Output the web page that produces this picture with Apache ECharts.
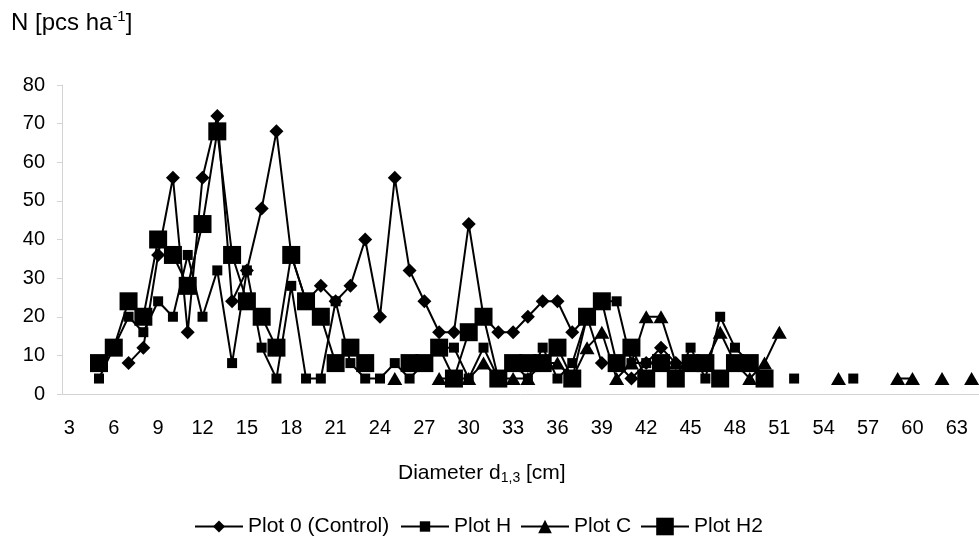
<!DOCTYPE html>
<html>
<head>
<meta charset="utf-8">
<script src="https://cdn.jsdelivr.net/npm/echarts/dist/echarts.min.js"></script>
<style>
html, body { margin: 0; padding: 0; background: #fff; }
#chart { width: 979px; height: 541px; }
</style>
</head>
<body>
<div id="chart"></div>
<script>
// diameter classes d1,3 [cm]
var diameters = ['3','4','5','6','7','8','9','10','11','12','13','14','15','16','17','18','19','20',
	'21','22','23','24','25','26','27','28','29','30','31','32','33','34','35','36','37','38','39','40',
	'41','42','43','44','45','46','47','48','49','50','51','52','53','54','55','56','57','58','59','60',
	'61','62','63','64'];

// N [pcs ha-1] per diameter class, null = no trees
var plot0 = [null, null, null, null, 8, 12, 36, 56, 16, 56,
	72, 24, 32, 48, 68, 36, 24, 28, 24, 28,
	40, 20, 56, 32, 24, 16, 16, 44, 20, 16,
	16, 20, 24, 24, 16, 20, 8, 8, 4, 8,
	12, 8, 8, null, null, null, null, null, null, null,
	null, null, null, null, null, null, null, null, null, null,
	null, null];
var plotH = [null, null, 4, 12, 20, 16, 24, 20, 36, 20,
	32, 8, 32, 12, 4, 28, 4, 4, 24, 8,
	4, 4, 8, 4, 8, 12, 12, 4, 12, 4,
	8, 4, 12, 4, 8, 20, 24, 24, 8, 8,
	8, 4, 12, 4, 20, 12, 8, 4, null, 4,
	null, null, null, 4, null, null, null, null, null, null,
	null, null];
var plotC = [null, null, null, null, null, null, null, null, null, null,
	null, null, null, null, null, null, null, null, null, null,
	null, null, 4, null, null, 4, 4, 4, 8, 4,
	4, 4, 8, 8, 4, 12, 16, 4, 8, 20,
	20, 8, 8, 8, 16, 8, 4, 8, 16, null,
	null, null, 4, null, null, null, 4, 4, null, 4,
	null, 4];
var plotH2 = [null, null, 8, 12, 24, 20, 40, 36, 28, 44,
	68, 36, 24, 20, 12, 36, 24, 20, 8, 12,
	8, null, null, 8, 8, 12, 4, 16, 20, 4,
	8, 8, 8, 12, 4, 20, 24, 8, 12, 4,
	8, 4, 8, 8, 4, 8, 8, 4, null, null,
	null, null, null, null, null, null, null, null, null, null,
	null, null];

var font = '"Liberation Sans", Arial, sans-serif';
var axisGrey = '#d4d4d4';

function lineSeries(name, data, symbol, size) {
	return {
		name: name,
		type: 'line',
		data: data,
		symbol: symbol,
		symbolSize: size,
		showSymbol: true,
		showAllSymbol: true,
		connectNulls: false,
		itemStyle: { color: '#000' },
		lineStyle: { color: '#000', width: 2 },
		emphasis: { disabled: true }
	};
}

function legendItem(name, left, h, top) {
	return {
		data: [name],
		left: left,
		top: top,
		itemWidth: 48,
		itemHeight: h,
		padding: 0,
		selectedMode: false,
		textStyle: { fontFamily: font, fontSize: 21, color: '#000' }
	};
}

var chart = echarts.init(document.getElementById('chart'));
var option = {
	animation: false,
	backgroundColor: '#fff',
	grid: { left: 62, right: 0, top: 85, bottom: 147, containLabel: false, outerBoundsMode: 'none' },
	xAxis: {
		type: 'category',
		data: diameters,
		boundaryGap: true,
		axisLine: { lineStyle: { color: axisGrey, width: 1 } },
		axisTick: { interval: 0, length: 5, lineStyle: { color: axisGrey } },
		axisLabel: { interval: 2, margin: 24, fontFamily: font, fontSize: 20, color: '#000' },
		splitLine: { show: false }
	},
	yAxis: {
		type: 'value',
		min: 0,
		max: 80,
		interval: 10,
		axisLine: { show: true, lineStyle: { color: axisGrey, width: 1 } },
		axisTick: { show: true, length: 5, lineStyle: { color: axisGrey } },
		axisLabel: { margin: 17, fontFamily: font, fontSize: 20, color: '#000' },
		splitLine: { show: false }
	},
	legend: [
		legendItem('Plot 0 (Control)', 194, 15, 516),
		legendItem('Plot H', 400, 13, 516),
		legendItem('Plot C', 520, 17, 516),
		legendItem('Plot H2', 640, 22, 516)
	],
	graphic: [
		{
			type: 'text',
			left: 11,
			top: 9,
			style: {
				text: '{a|N [pcs ha}{s|-1}{a|]}',
				fill: '#000',
				rich: {
					a: { fontFamily: font, fontSize: 24, lineHeight: 28, fill: '#000' },
					s: { fontFamily: font, fontSize: 15, lineHeight: 14, verticalAlign: 'top', fill: '#000' }
				}
			}
		},
		{
			type: 'text',
			left: 398,
			top: 463,
			style: {
				text: '{a|Diameter d}{s|1,3}{a| [cm]}',
				fill: '#000',
				rich: {
					a: { fontFamily: font, fontSize: 21, lineHeight: 24, fill: '#000' },
					s: { fontFamily: font, fontSize: 14, lineHeight: 12, verticalAlign: 'bottom', fill: '#000' }
				}
			}
		}
	],
	series: [
		lineSeries('Plot 0 (Control)', plot0, 'diamond', 14),
		lineSeries('Plot H', plotH, 'rect', 10),
		lineSeries('Plot C', plotC, 'triangle', [15, 13]),
		lineSeries('Plot H2', plotH2, 'rect', 18)
	]
};
chart.setOption(option);
</script>
</body>
</html>
